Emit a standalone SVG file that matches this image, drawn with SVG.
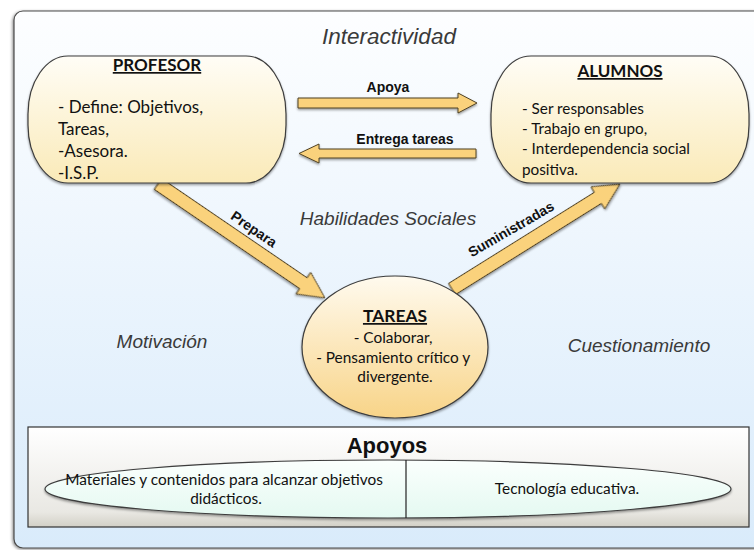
<svg xmlns="http://www.w3.org/2000/svg" width="754" height="550" viewBox="0 0 754 550">
  <defs>
    <linearGradient id="bgGrad" x1="0" y1="0" x2="0" y2="1">
      <stop offset="0" stop-color="#fdfeff"/>
      <stop offset="1" stop-color="#d9ebfb"/>
    </linearGradient>
    <linearGradient id="boxGrad" x1="0" y1="0" x2="0" y2="1">
      <stop offset="0" stop-color="#fffdf6"/>
      <stop offset="1" stop-color="#faeab8"/>
    </linearGradient>
    <linearGradient id="ovalGrad" x1="0" y1="0" x2="0" y2="1">
      <stop offset="0" stop-color="#fffaee"/>
      <stop offset="1" stop-color="#f8d488"/>
    </linearGradient>
    <linearGradient id="panelGrad" x1="0" y1="0" x2="0" y2="1">
      <stop offset="0" stop-color="#ffffff"/>
      <stop offset="0.85" stop-color="#e9e8e3"/>
      <stop offset="1" stop-color="#d2d0c6"/>
    </linearGradient>
    <linearGradient id="pillGrad" x1="0" y1="0" x2="0" y2="1">
      <stop offset="0" stop-color="#fbfffd"/>
      <stop offset="1" stop-color="#e4f9f1"/>
    </linearGradient>
    <filter id="shadow" x="-10%" y="-10%" width="120%" height="130%">
      <feDropShadow dx="0" dy="1.5" stdDeviation="1.2" flood-color="#000" flood-opacity="0.4"/>
    </filter>
    <filter id="frameShadow" x="-5%" y="-5%" width="110%" height="110%">
      <feDropShadow dx="-1" dy="1" stdDeviation="1.5" flood-color="#000" flood-opacity="0.45"/>
    </filter>
  </defs>
  <style>
    .node { stroke: #3d3d3d; stroke-width: 1.2; filter: url(#shadow); }
    .arrow { fill: #fad27c; stroke: #4f4124; stroke-width: 1; filter: url(#shadow); }
    .body { font-family: Lato, "Open Sans", sans-serif; fill: #111; }
    .title { font-family: Lato, "Open Sans", sans-serif; font-weight: bold; fill: #111; text-decoration: underline; }
    .lbl { font-family: "Liberation Sans", Arial, sans-serif; font-weight: bold; font-size: 14px; fill: #111; }
    .theme { font-family: "Liberation Sans", Arial, sans-serif; font-style: italic; fill: #3a3a3a; }
  </style>

  <!-- background frame -->
  <rect x="14" y="11" width="770" height="537" rx="9" fill="url(#bgGrad)" stroke="#4a4a4a" stroke-width="1.2" filter="url(#frameShadow)"/>

  <!-- floating theme words -->
  <g id="themes">
    <text class="theme" x="389" y="44" font-size="22.5" text-anchor="middle">Interactividad</text>
    <text class="theme" x="388" y="225" font-size="19" text-anchor="middle">Habilidades Sociales</text>
    <text class="theme" x="162" y="348" font-size="19" text-anchor="middle">Motivación</text>
    <text class="theme" x="639" y="352" font-size="19" text-anchor="middle">Cuestionamiento</text>
  </g>

  <!-- connectors -->
  <g id="connectors">
    <polygon class="arrow" points="298,98 458,98 458,93 477,103 458,113 458,108 298,108"/>
    <text class="lbl" x="388" y="92" text-anchor="middle">Apoya</text>

    <polygon class="arrow" points="476,149 319,149 319,144 299,153.5 319,163 319,158 476,158"/>
    <text class="lbl" x="405" y="144" text-anchor="middle">Entrega tareas</text>

    <polygon class="arrow" transform="translate(158,184) rotate(34.3)" points="0,-6.5 176,-6.5 176,-13 202,0 176,13 176,6.5 0,6.5"/>
    <text class="lbl" transform="translate(254,229) rotate(34.5)" x="0" y="5" text-anchor="middle">Prepara</text>

    <polygon class="arrow" transform="translate(452,289) rotate(-32)" points="0,-6.5 172,-6.5 172,-13 198,0 172,13 172,6.5 0,6.5"/>
    <text class="lbl" transform="translate(511,229) rotate(-30)" x="0" y="5" text-anchor="middle">Suministradas</text>
  </g>

  <!-- teacher -->
  <g id="profesor">
    <rect class="node" x="28" y="56" width="258" height="127" rx="40" ry="58" fill="url(#boxGrad)"/>
    <text class="title" x="157" y="71" font-size="17" text-anchor="middle">PROFESOR</text>
    <text class="body" font-size="17">
      <tspan x="58" y="113">- Define: Objetivos,</tspan>
      <tspan x="58" y="135">Tareas,</tspan>
      <tspan x="58" y="157">-Asesora.</tspan>
      <tspan x="58" y="179">-I.S.P.</tspan>
    </text>
  </g>

  <!-- students -->
  <g id="alumnos">
    <rect class="node" x="491" y="56" width="258" height="127" rx="40" ry="58" fill="url(#boxGrad)"/>
    <text class="title" x="620" y="77" font-size="17" text-anchor="middle">ALUMNOS</text>
    <text class="body" font-size="15.3">
      <tspan x="522" y="114">- Ser responsables</tspan>
      <tspan x="522" y="134">- Trabajo en grupo,</tspan>
      <tspan x="522" y="154">- Interdependencia social</tspan>
      <tspan x="522" y="175">positiva.</tspan>
    </text>
  </g>

  <!-- tasks -->
  <g id="tareas">
    <ellipse class="node" cx="395" cy="347" rx="93" ry="71" fill="url(#ovalGrad)"/>
    <text class="title" x="395" y="322" font-size="17.4" text-anchor="middle">TAREAS</text>
    <text class="body" font-size="15.4" text-anchor="middle">
      <tspan x="395" y="343">- Colaborar,</tspan>
      <tspan x="395" y="363">- Pensamiento crítico y</tspan>
      <tspan x="395" y="382">divergente.</tspan>
    </text>
  </g>

  <!-- supports panel -->
  <g id="apoyos">
    <rect x="28" y="427" width="721" height="100" fill="url(#panelGrad)" stroke="#333" stroke-width="1.2"/>
    <text x="387" y="453" font-family="'Liberation Sans', Arial, sans-serif" font-weight="bold" font-size="22" text-anchor="middle" fill="#111">Apoyos</text>
    <ellipse class="node" cx="388" cy="489" rx="343" ry="29" fill="url(#pillGrad)"/>
    <line x1="406" y1="460" x2="406" y2="518" stroke="#222" stroke-width="1.2"/>
    <text class="body" font-size="15.4" text-anchor="middle">
      <tspan x="226" y="485">Materiales y contenidos para alcanzar objetivos</tspan>
      <tspan x="226" y="504">didácticos.</tspan>
    </text>
    <text class="body" x="567" y="494" font-size="15.4" text-anchor="middle">Tecnología educativa.</text>
  </g>
</svg>
